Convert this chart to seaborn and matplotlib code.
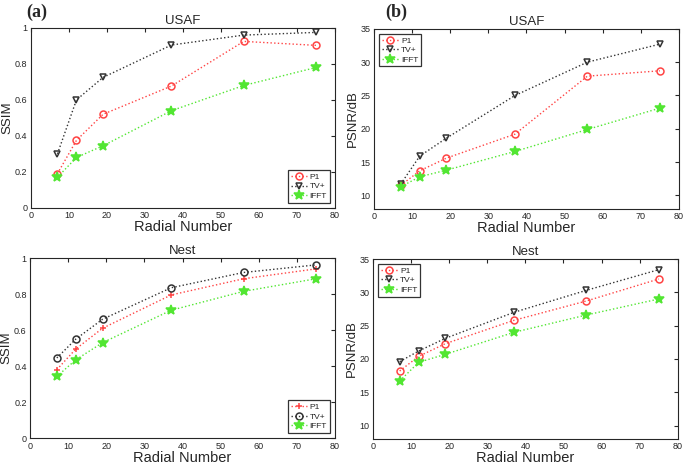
import numpy as np
import pandas as pd
import matplotlib
matplotlib.use("Agg")
import matplotlib.pyplot as plt
import seaborn as sns
from matplotlib.ticker import FormatStrFormatter

# radial numbers
radial = [7, 12, 19, 37, 56, 75]

# USAF SSIM
usaf_ssim_p1 = [0.19, 0.375, 0.52, 0.677, 0.925, 0.903]
usaf_ssim_tv = [0.30, 0.60, 0.725, 0.905, 0.96, 0.975]
usaf_ssim_ifft = [0.17, 0.28, 0.345, 0.54, 0.68, 0.78]

# USAF PSNR
usaf_psnr_p1 = [11.5, 13.7, 15.6, 19.2, 27.9, 28.7]
usaf_psnr_tv = [11.7, 15.9, 18.6, 25.0, 30.0, 32.7]
usaf_psnr_ifft = [11.3, 12.8, 13.8, 16.6, 19.9, 23.1]

# Nest SSIM
nest_ssim_p1 = [0.38, 0.495, 0.61, 0.795, 0.885, 0.94]
nest_ssim_tv = [0.445, 0.55, 0.66, 0.835, 0.92, 0.962]
nest_ssim_ifft = [0.342, 0.435, 0.53, 0.71, 0.815, 0.885]

# Nest PSNR
nest_psnr_p1 = [18.2, 20.4, 22.3, 25.8, 28.7, 32.0]
nest_psnr_tv = [19.6, 21.2, 23.1, 27.0, 30.3, 33.4]
nest_psnr_ifft = [16.7, 19.5, 20.7, 24.0, 26.6, 29.0]

labels = ["P1", "TV+", "IFFT"]

sns.set_style("white")
plt.rcParams["font.family"] = ["Liberation Sans", "DejaVu Sans"]

RED = "#ff4444"
BLK = "#333333"
GRN = "#52e632"
TXT = "#262626"

fig = plt.figure(figsize=(6.85, 4.65), dpi=100)


def draw(rect, title, ylab, series, markers, ylim, yticks, legend_loc):
    ax = fig.add_axes(rect)
    colors = [RED, BLK, GRN]
    for vals, lab, mk, c in zip(series, labels, markers, colors):
        face = c if mk in ("*", "+") else "none"
        ms = 7 if mk == "*" else 5
        sns.lineplot(x=radial, y=vals, ax=ax, color=c, linestyle=":", lw=1.0,
                     marker=mk, markersize=ms, markerfacecolor=face,
                     markeredgecolor=c, markeredgewidth=1.1, label=lab)
    ax.set_xlim(0, 80)
    ax.set_ylim(*ylim)
    ax.set_xticks(range(0, 81, 10))
    ax.set_yticks(yticks)
    ax.yaxis.set_major_formatter(FormatStrFormatter("%g"))
    ax.tick_params(direction="in", top=True, right=True, length=3,
                   labelsize=6.5, colors=TXT, width=0.8, pad=2.5)
    for s in ax.spines.values():
        s.set_color(TXT)
        s.set_linewidth(0.8)
    ax.set_title(title, fontsize=9.5, color=TXT, pad=3)
    ax.set_xlabel("Radial Number", fontsize=10.5, color=TXT, labelpad=0)
    ax.set_ylabel(ylab, fontsize=9.5, color=TXT, labelpad=1)
    leg = ax.legend(loc=legend_loc, fontsize=6, frameon=True, fancybox=False,
                    handlelength=2.0, handletextpad=0.3, borderpad=0.35,
                    labelspacing=0.2, borderaxespad=0.6)
    leg.get_frame().set_edgecolor("black")
    leg.get_frame().set_linewidth(0.9)
    return ax


draw([0.045, 0.553, 0.444, 0.387], "USAF", "SSIM",
     [usaf_ssim_p1, usaf_ssim_tv, usaf_ssim_ifft], ["o", "v", "*"],
     (0, 1), [0, 0.2, 0.4, 0.6, 0.8, 1], "lower right")
draw([0.546, 0.551, 0.445, 0.387], "USAF", "PSNR/dB",
     [usaf_psnr_p1, usaf_psnr_tv, usaf_psnr_ifft], ["o", "v", "*"],
     (8, 35), [10, 15, 20, 25, 30, 35], "upper left")
draw([0.044, 0.058, 0.445, 0.387], "Nest", "SSIM",
     [nest_ssim_p1, nest_ssim_tv, nest_ssim_ifft], ["+", "o", "*"],
     (0, 1), [0, 0.2, 0.4, 0.6, 0.8, 1], "lower right")
draw([0.5445, 0.056, 0.445, 0.387], "Nest", "PSNR/dB",
     [nest_psnr_p1, nest_psnr_tv, nest_psnr_ifft], ["o", "v", "*"],
     (8, 35), [10, 15, 20, 25, 30, 35], "upper left")

fig.text(0.039, 0.992, "(a)", fontsize=13, fontweight="bold",
         family="Liberation Serif", va="top")
fig.text(0.563, 0.992, "(b)", fontsize=13, fontweight="bold",
         family="Liberation Serif", va="top")

fig.savefig("out.png", dpi=100)
